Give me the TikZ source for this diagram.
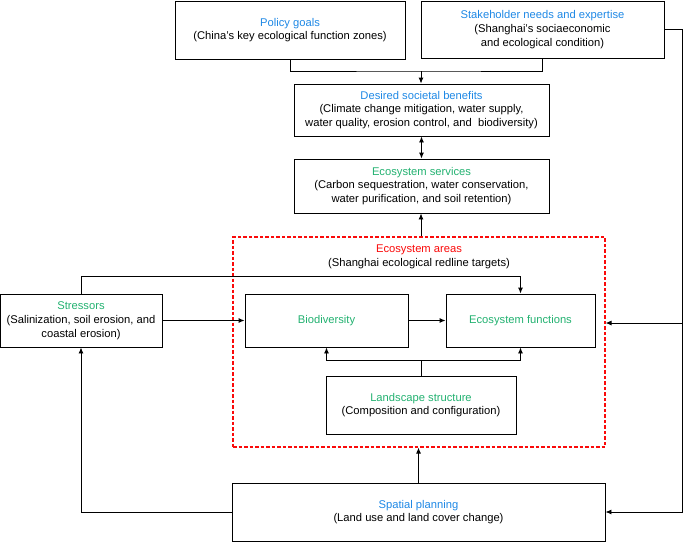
\documentclass[tikz,border=0pt]{standalone}
\usepackage{fontspec}
\setmainfont{Liberation Sans}
\usepackage{tikz}
\usetikzlibrary{arrows.meta}

\definecolor{titleblue}{RGB}{30,136,229}
\definecolor{titlegreen}{RGB}{34,177,112}
\definecolor{areared}{RGB}{250,10,10}

\tikzset{
	box/.style={draw, line width=0.9pt, align=center, inner sep=0pt},
	wire/.style={line width=0.9pt},
	arr/.style={wire, -{Latex[length=6pt,width=5pt]}},
	both/.style={wire, {Latex[length=6pt,width=5pt]}-{Latex[length=6pt,width=5pt]}}
}

\begin{document}
\begin{tikzpicture}[x=1pt, y=-1pt, font=\fontsize{11.2}{13.8}\selectfont]
				\useasboundingbox (0, 0) rectangle (685, 542);
				% Boxes:
				\node[box, minimum width=230, minimum height=58](policy) at (290, 30){\textcolor{titleblue}{Policy goals}\\(China's key ecological function zones)};
				\node[box, minimum width=243, minimum height=57](stake) at (542.5, 29.5){\textcolor{titleblue}{Stakeholder needs and expertise}\\(Shanghai's sociaeconomic\\and ecological condition)};
				\node[box, minimum width=255, minimum height=52](desired) at (421.5, 110){\textcolor{titleblue}{Desired societal benefits}\\(Climate change mitigation, water supply,\\water quality, erosion control, and\ \ biodiversity)};
				\node[box, minimum width=255, minimum height=54](services) at (421.5, 186){\textcolor{titlegreen}{Ecosystem services}\\(Carbon sequestration, water conservation,\\water purification, and soil retention)};
				\node[draw=areared, color=areared, line width=1.1pt, dash pattern=on 3.5pt off 2pt, minimum width=372, minimum height=210](area) at (419, 342){};
				\node[align=center](areatitle) at (419, 257){\textcolor{areared}{Ecosystem areas}\\(Shanghai ecological redline targets)};
				\node[box, minimum width=162, minimum height=53](stress) at (81, 320.5){\textcolor{titlegreen}{Stressors}\\(Salinization, soil erosion, and\\coastal erosion)};
				\node[box, minimum width=163, minimum height=53](bio) at (326.5, 320.5){\textcolor{titlegreen}{Biodiversity}};
				\node[box, minimum width=149, minimum height=53](func) at (520.5, 320.5){\textcolor{titlegreen}{Ecosystem functions}};
				\node[box, minimum width=190, minimum height=58](land) at (421, 405){\textcolor{titlegreen}{Landscape structure}\\(Composition and configuration)};
				\node[box, minimum width=373, minimum height=58](plan) at (418.5, 512){\textcolor{titleblue}{Spatial planning}\\(Land use and land cover change)};
				% Wires:
				\coordinate (join) at (421, 71);
				\coordinate (rail) at (682, 323);
				\draw[wire] (policy.south) |- (join) -| (stake.south);
				\draw[arr] (join) -- (join |- desired.north);
				\draw[both] (desired.south) -- (services.north);
				\draw[arr] (area.north -| join) -- (services.south -| join);
				\draw[arr] (stress.north) -- ++(0, -17) -| (func.north);
				\draw[arr] (stress.east) -- (bio.west);
				\draw[arr] (bio.east) -- (func.west);
				\draw[wire] (land.north) -- ++(0, -15) coordinate (split);
				\draw[arr] (split) -| (bio.south);
				\draw[arr] (split) -| (func.south);
				\draw[arr] (plan.north) -- (plan.north |- area.south);
				\draw[arr] (plan.west) -| (stress.south);
				\draw[arr] (stake.east) -| (rail |- plan.east) -- (plan.east);
				\draw[arr] (rail) -- (area.east |- rail);
			\end{tikzpicture}
\end{document}
